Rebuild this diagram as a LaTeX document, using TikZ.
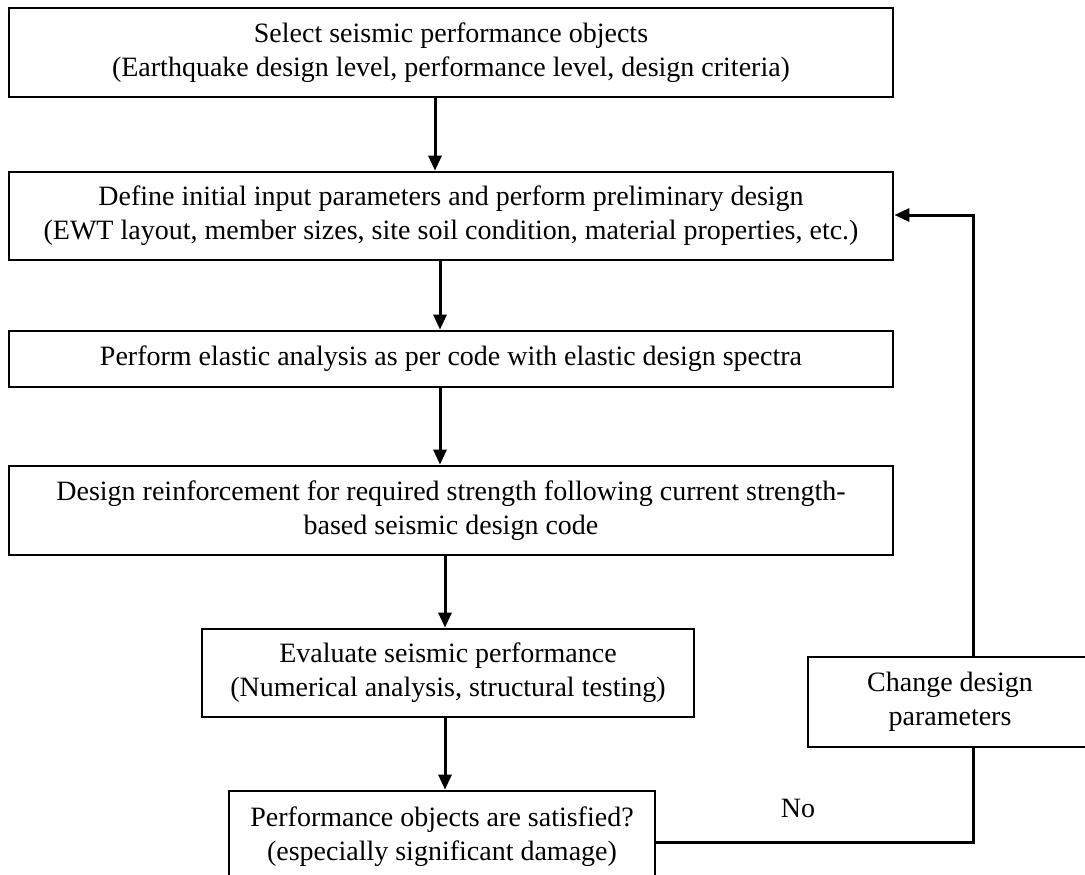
\documentclass[tikz,border=0pt]{standalone}
\usepackage{fontspec}
\setmainfont{Liberation Serif}
\usetikzlibrary{arrows.meta}
\begin{document}
\begin{tikzpicture}[x=1pt,y=-1pt,
  box/.style={draw, line width=2.8pt, inner sep=0pt, align=center, font=\fontsize{28}{34}\selectfont},
  arr/.style={line width=3pt, -{Triangle[length=15pt,width=13pt]}},
  ln/.style={line width=3pt}]
\useasboundingbox (0,0) rectangle (1085,875);
\clip (0,0) rectangle (1085,875);
\node[box, minimum width=884pt, minimum height=89pt] (b1) at (451,52.5) {Select seismic performance objects\\(Earthquake design level, performance level, design criteria)};
\node[box, minimum width=884pt, minimum height=88pt] (b2) at (451,216) {Define initial input parameters and perform preliminary design\\(EWT layout, member sizes, site soil condition, material properties, etc.)};
\node[box, minimum width=884pt, minimum height=56pt] (b3) at (451,359) {Perform elastic analysis as per code with elastic design spectra};
\node[box, minimum width=884pt, minimum height=89pt] (b4) at (451,510.5) {Design reinforcement for required strength following current strength-\\based seismic design code};
\node[box, minimum width=492pt, minimum height=88pt] (b5) at (448,673) {Evaluate seismic performance\\(Numerical analysis, structural testing)};
\node[box, minimum width=426pt, minimum height=92pt] (b6) at (442,837) {Performance objects are satisfied?\\(especially significant damage)};
\node[box, minimum width=284pt, minimum height=90pt] (b7) at (950,702) {Change design\\parameters};
\coordinate (c1) at (973,842);
\coordinate (c2) at (973,215);
\draw[arr] ([xshift=-16pt]b1.south) -- ([xshift=-16pt]b2.north);
\draw[arr] ([xshift=-11pt]b2.south) -- ([xshift=-11pt]b3.north);
\draw[arr] ([xshift=-11pt]b3.south) -- ([xshift=-11pt]b4.north);
\draw[arr] ([xshift=-6pt]b4.south) -- ([xshift=-3pt]b5.north);
\draw[arr] ([xshift=-3pt]b5.south) -- ([xshift=3pt]b6.north);
\draw[ln] (b6.east |- c1) -- (c1) -- (c1 |- b7.south);
\draw[arr] (c2 |- b7.north) -- (c2) -- (c2 -| b2.east);
\node[font=\fontsize{28}{34}\selectfont] (no) at (798,808) {No};
\end{tikzpicture}
\end{document}
